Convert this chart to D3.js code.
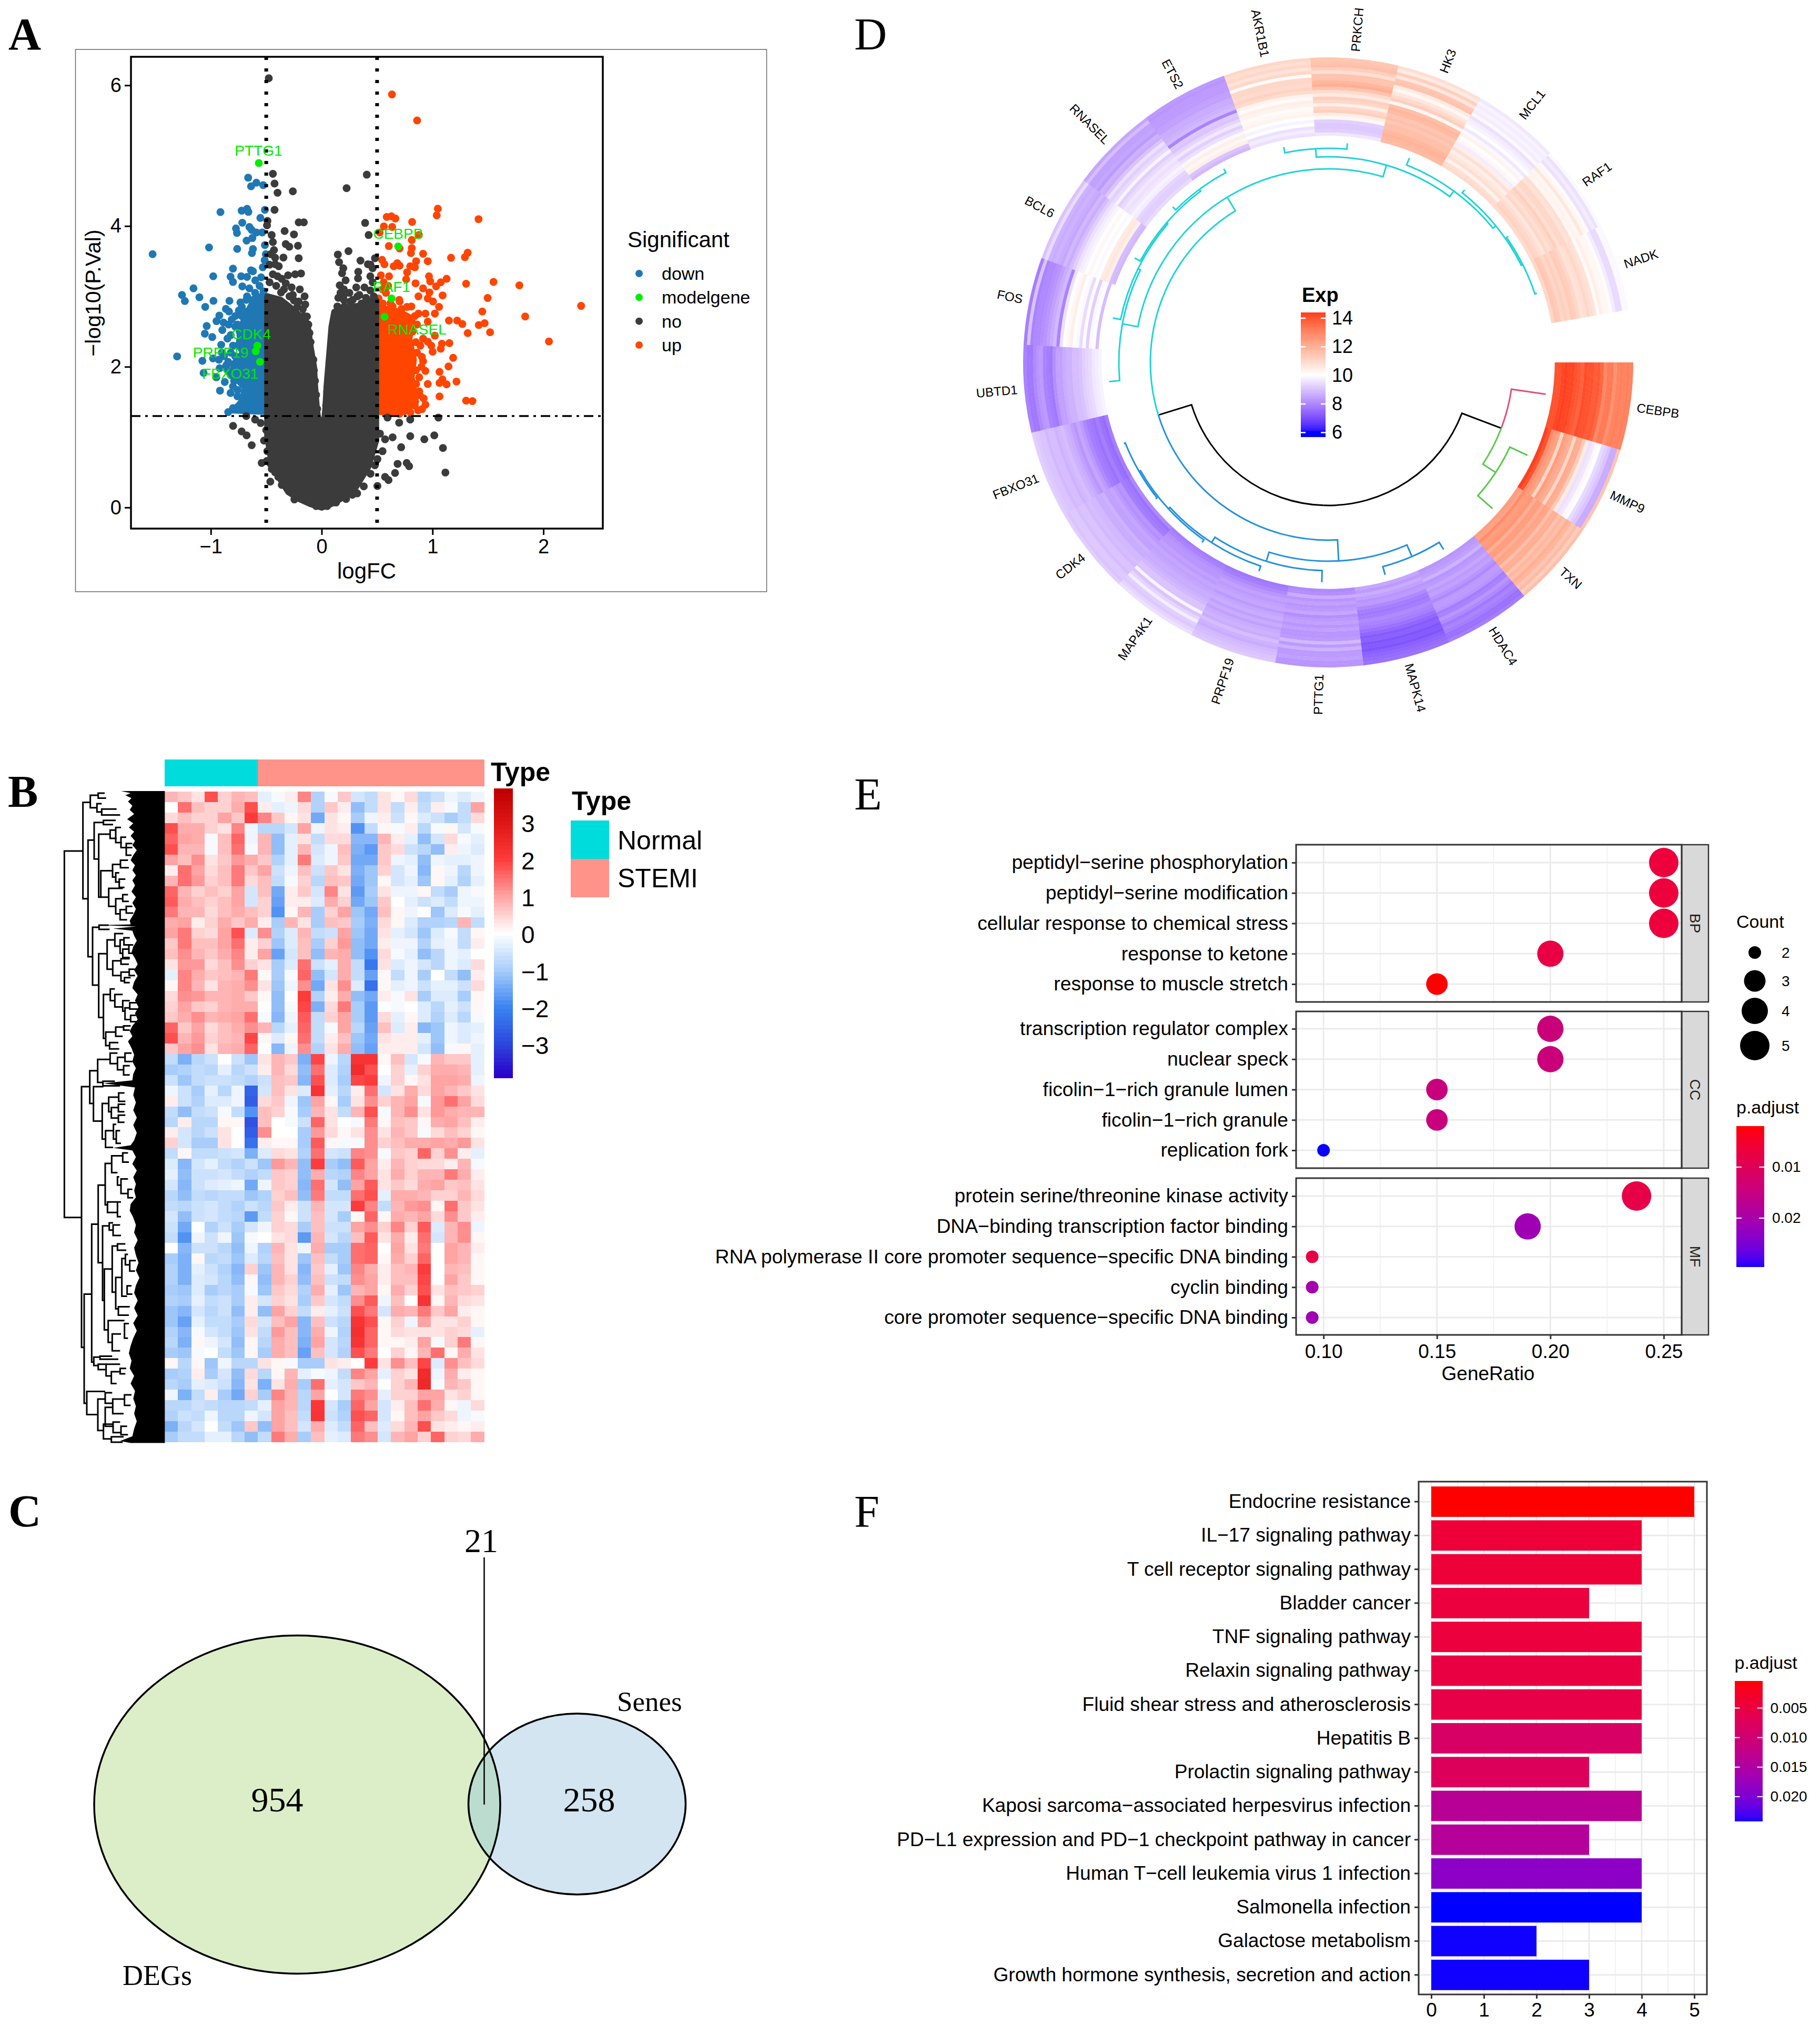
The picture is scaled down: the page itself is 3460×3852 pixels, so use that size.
<!DOCTYPE html>
<html><head><meta charset="utf-8">
<script src="https://cdn.jsdelivr.net/npm/d3@7"></script>
<style>html,body{margin:0;padding:0;background:#fff}svg{display:block}text{font-family:"Liberation Sans",Arial,sans-serif}</style>
</head><body><svg id="c" width="3460" height="3852" xmlns="http://www.w3.org/2000/svg"></svg>
<script>
// ---------- Panel A data: logFC, -log10(P.Val) ----------
const downPoints=[[-1.525,3.6],[-.663,4.687],[-.589,4.616],[-.637,4.564],[-.527,4.581],[-.512,4.23],[-.913,4.198],[-.722,4.218],[-.673,4.244],[-.661,4.201],[-.553,4.115],[-.716,4.047],[-.773,3.966],[-.764,3.901],[-.652,3.986],[-.631,3.944],[-.589,3.909],[-.536,3.909],[-.625,3.829],[-.677,3.792],[-1.016,3.695],[-.762,3.675],[-.62,3.672],[-.629,3.615],[-.512,3.729],[-.504,3.6],[-.514,3.514],[-.531,3.414],[-.8,3.394],[-.637,3.371],[-.62,3.357],[-.978,3.286],[-.822,3.28],[-.726,3.286],[-.673,3.277],[-.546,3.271],[-.8,3.205],[-.599,3.228],[-.716,3.143],[-.652,3.114],[-.525,3.071],[-1.156,3.114],[-1.26,3.02],[-1.234,2.934],[-1.103,2.988],[-.976,2.937],[-.832,2.937],[-.733,2.914],[-.673,3],[-.567,2.971],[-1.05,2.851],[-.864,2.822],[-.836,2.785],[-.923,2.728],[-.949,2.648],[-.811,2.671],[-.885,2.628],[-.747,2.799],[-1.037,2.579],[-.896,2.522],[-.779,2.57],[-1.054,2.47],[-.987,2.422],[-1.304,2.147],[-1.076,2.084],[-.906,2.313],[-.98,2.119],[-.843,2.07],[-.927,2.099],[-.737,2.37],[-1.065,1.913],[-.874,1.784],[-.79,1.798],[-.917,1.661],[-.822,1.627],[-.758,1.669],[-.726,1.484],[-.8,1.412],[-.843,1.355],[-.694,1.569],[-.663,1.627],[-.85,2.4],[-.8,2.3],[-.9,2.2],[-.85,1.95],[-.95,1.85],[-.78,2.15],[-.84,2.6],[-.78,2.72],[-.72,2.85],[-.56,3.15],[-.6,3.05],[-.68,2.95],[-.62,2.95],[-.72,2.72],[-.68,2.78],[-.76,2.6],[-.74,2.5],[-.82,2.45],[-.76,2.3],[-.72,2.25],[-.82,2.2],[-.88,2.15],[-.78,2.02],[-.86,2.02],[-.92,1.98],[-.82,1.88],[-.72,1.85],[-.8,1.72],[-.76,1.58],[-.7,1.45],[-.76,1.4],[-.68,1.36],[-.58,2.95],[-.54,3]];
const upPoints=[[.587,4.129],[.629,4.138],[.665,4.107],[.816,4.058],[1.048,4.247],[1.038,4.152],[1.415,4.098],[.561,3.995],[.636,3.986],[.523,3.909],[.877,3.872],[.813,3.801],[.606,3.715],[.703,3.68],[.813,3.686],[.805,3.615],[.915,3.606],[.957,3.5],[.852,3.5],[.799,3.429],[.841,3.414],[.682,3.472],[.703,3.437],[.65,3.429],[.545,3.52],[.566,3.457],[1.317,3.62],[1.292,3.557],[1.167,3.549],[.771,3.343],[.762,3.243],[.534,3.3],[.608,3.286],[.968,3.286],[.979,3.214],[1.127,3.251],[1.074,3.2],[1.032,3.143],[1.303,3.18],[1.55,3.206],[1.783,3.157],[.847,3.186],[.915,3.114],[.972,3.057],[.873,3],[.957,2.971],[1.091,3.014],[1.497,2.977],[1.004,2.928],[1.059,2.851],[1.449,2.785],[.703,2.928],[.809,2.857],[.513,2.971],[.64,2.857],[.873,2.756],[.936,2.756],[1.021,2.756],[1.148,2.656],[1.222,2.656],[1.269,2.608],[1.836,2.714],[1.417,2.593],[1.47,2.619],[1.519,2.49],[1.317,2.479],[.957,2.642],[1.021,2.442],[.915,2.399],[.957,2.356],[1.152,2.336],[1.085,2.327],[.89,2.299],[.989,2.299],[1.074,2.256],[1.001,2.213],[.904,2.141],[.915,2.079],[1.186,2.127],[1.144,2.004],[.936,1.941],[1.063,1.927],[.957,1.755],[1.089,1.821],[1.063,1.77],[1.127,1.75],[1.216,1.79],[1.063,1.578],[1.303,1.518],[1.36,1.512],[.852,1.755],[.883,1.598],[.936,1.461],[.809,1.512],[.905,1.398],[.746,1.369],[2.34,2.865],[2.05,2.36],[.634,5.87],[.861,5.5],[.55,2.9],[.58,3.05],[.62,2.9],[.7,2.95],[.72,2.82],[.77,2.85],[.84,2.72],[.86,2.6],[.82,2.5],[.85,2.35],[.78,2.3],[.86,2.2],[.9,2],[.85,1.95],[.88,1.85],[.82,1.7],[.88,1.65],[.92,1.55],[.84,1.45],[.87,1.38],[.8,1.35],[.7,1.33],[.55,3.1],[.56,3.2],[.6,3.15]];
const noPoints=[[-.477,6.1],[-.44,4.742],[-.425,4.604],[-.398,4.473],[-.26,4.493],[-.425,4.23],[-.489,4.072],[-.493,4.009],[-.207,4.052],[-.161,4.052],[-.334,3.929],[-.25,3.881],[-.451,3.872],[-.324,3.743],[-.292,3.706],[-.214,3.72],[-.44,3.772],[-.43,3.658],[-.207,3.543],[-.345,3.552],[-.387,3.429],[-.419,3.457],[-.186,3.326],[-.239,3.314],[-.303,3.3],[-.398,3.286],[-.44,3.314],[-.324,3.186],[-.271,3.128],[-.197,3.1],[-.154,3],[-.366,3.057],[-.148,2.885],[-.207,2.928],[-.25,2.942],[-.133,2.714],[.407,4.73],[.225,4.538],[.392,4.044],[.424,3.872],[.242,3.643],[.146,3.595],[.157,3.486],[.195,3.4],[.184,3.329],[.35,3.509],[.417,3.457],[.481,3.543],[.439,3.286],[.328,3.257],[.216,3.228],[.163,3.157],[.312,3.128],[.386,3.128],[.439,3.085],[.195,3],[.322,3],[.259,2.928],[.142,2.857],[.206,2.857],[.322,2.814],[.428,2.928],[.396,2.857],[.174,2.714],[-.799,1.16],[-.677,1.025],[-.631,.885],[-.722,1.081],[-.541,.632],[-.495,.66],[-.45,.547],[-.391,.435],[-.463,.367],[-.246,.114],[1.053,1.278],[.799,1.25],[.699,1.205],[.799,1.014],[.926,.969],[1.016,1.025],[1.094,.845],[1.116,.497],[.717,.856],[.64,.997],[.572,.969],[.503,.688],[.685,.62],[.767,.632],[.789,.587],[.662,.491],[.572,.434],[.603,.39],[.503,.305],[.549,.8],[.277,.181],[.594,1.278],[-.68,1.3],[-.6,1.25],[-.55,1.2],[.526,1.05],[-.47,3.45],[-.46,3.6],[-.47,3.2],[-.42,3.55],[-.41,3.15],[-.36,3.25],[-.34,3.1],[-.29,3],[-.26,3.02],[-.22,2.85],[-.17,2.82],[-.16,2.72],[-.12,2.6],[-.11,2.48],[-.1,2.35],[-.1,2.2],[-.075,2.1],[-.07,1.95],[-.06,1.8],[-.05,1.6],[-.04,1.4],[-.03,1.25],[-.03,1.1],[.12,2.65],[.1,2.5],[.09,2.35],[.08,2.2],[.07,2.05],[.06,1.85],[.05,1.65],[.04,1.45],[.035,1.25],[.03,1.05],[.15,2.98],[.17,3.05],[.25,3.05],[.28,2.95],[.34,3.02],[.36,2.9],[.4,2.98],[.46,3.2],[.46,3.4],[.47,3],[.2,3.1],[.33,3.35],[.2,2.95],[.44,3.45],[-.46,.62],[-.42,.5],[-.36,.32],[-.3,.28],[-.2,.15],[-.12,.08],[-.05,.02],[.05,.02],[.13,.07],[.22,.12],[.32,.2],[.38,.3],[.44,.48],[.48,.6],[-.5,1.1],[-.52,.95],[-.49,.8]];
const modelPoints=[["PTTG1",-.567,4.895],["CEBPB",.69,3.71],["RAF1",.63,2.97],["RNASEL",.567,2.71],["CDK4",-.58,2.3],["PRPF19",-.595,2.22],["FBXO31",-.557,2.07]];
const modelLabelAt=[["PTTG1",-.57,5.0],["CEBPB",.69,3.82],["RAF1",.63,3.06],["RNASEL",.86,2.46],["CDK4",-.635,2.39],["PRPF19",-.91,2.13],["FBXO31",-.825,1.83]];
// dense core of each group, read as outlines of the solid mass
const noCore=[[-.49,3.0],[-.37,2.95],[-.25,2.8],[-.13,2.62],[-.1,2.28],[-.07,2],[-.06,1.71],[-.045,1.42],[0,.82],[.035,1.42],[.045,1.71],[.06,2],[.075,2.28],[.09,2.57],[.115,2.78],[.25,2.84],[.45,2.9],[.49,2.95],[.49,.95],[.42,.58],[.3,.27],[.2,.15],[.1,.06],[0,0],[-.1,.05],[-.2,.12],[-.3,.22],[-.4,.47],[-.46,.72],[-.49,1.02]];
const downCore=[[-.5,3],[-.62,2.92],[-.7,2.68],[-.74,2.45],[-.71,2.2],[-.8,2.03],[-.78,1.85],[-.69,1.7],[-.72,1.5],[-.8,1.38],[-.5,1.36]];
const upCore=[[.5,2.85],[.7,2.78],[.82,2.68],[.79,2.4],[.83,2.1],[.81,1.85],[.85,1.5],[.74,1.36],[.5,1.36]];
const legendA=[["down","#1f78b4"],["modelgene","#00ee00"],["no","#3b3b3b"],["up","#ff4500"]];
// ---------- Panel B data: z-score bands (rows) x samples (columns) ----------
const sampleTypes=["Normal","Normal","Normal","Normal","Normal","Normal","Normal","STEMI","STEMI","STEMI","STEMI","STEMI","STEMI","STEMI","STEMI","STEMI","STEMI","STEMI","STEMI","STEMI","STEMI","STEMI","STEMI","STEMI"];
const heatRows=[
[.8,.6,.3,1.8,.5,.8,.7,-.3,-.1,.2,1.3,-.9,-.1,.6,-.5,-.7,.3,.1,.4,-.8,-.6,-.2,-.4,-.2],
[0,1.5,.7,.5,.5,.9,1.8,.2,-.3,-.2,.4,-.9,.6,.2,-1.2,-.7,.3,-.7,.2,-.7,.2,-.1,-.7,1],
[.4,.7,.5,.5,1,.6,2,1.3,.6,.1,.3,-1.5,.3,.1,-1,-.2,.2,-.6,.1,-.4,-.6,-1,-.7,.4],
[1.8,.9,.9,.5,.3,1.3,-.2,-.8,-.8,-.5,1,-.2,.3,.2,-1.8,-.7,.1,-.1,.2,-.8,-.1,.1,-.5,-.1],
[1.6,1,.9,-.1,.7,1.6,-.2,.8,-1.2,-.3,.3,-.7,.4,.4,-1.3,-1.3,.8,.2,-.3,-1.2,-.5,.4,-.1,-.3],
[1.8,.8,.8,-.1,.7,1.5,-.1,.8,-1.2,-.3,.8,-.5,-.2,.7,-1.4,-1.7,.6,.4,-.6,-.8,-1.2,.2,-.2,-.4],
[1,.7,1.2,.3,.6,1.1,.9,.6,-.9,-.3,1.4,-.4,-.2,.6,-1.5,-1.5,.6,-.2,-.3,-1.2,-.2,-.3,-.3,-.2],
[.2,1.5,1,.4,.7,1.4,.6,1,-.6,-.2,.7,-.6,.6,.3,-1.4,-1.1,.5,-.5,-.2,-1.3,.1,-.2,-.8,-.2],
[.8,1.5,1.1,.5,.7,1.4,.4,.7,-.7,-.1,.5,-.8,.7,.6,-1.5,-1.1,.1,-.5,-.3,-1.1,.1,-.3,-.9,-.3],
[1.6,.8,.5,.7,.5,1,-.5,.7,-1.5,.2,.6,-.5,1.3,.3,-1.7,-1,.3,-.2,-.2,.1,-.7,-1,-.2,-.1],
[1.7,.9,.7,.5,.7,1,-.5,.5,-1.6,.2,.2,-.4,.9,.5,-1.5,-1.1,.6,0,-.3,-.6,-.4,-.7,-.2,-.2],
[1.4,.8,.8,.4,.7,.9,.7,.5,-1.8,.1,.8,-1,.5,1,-1.1,-1.5,.7,.1,-.2,0,-1.1,-.4,-.1,-.3],
[.9,1,.2,.5,.9,.6,.9,.2,-1,.8,.3,-1,.7,.6,-1,-1.4,.4,.1,-.4,-.9,-.9,-.8,.8,-.7],
[1,1.4,.5,.4,1,1.8,-.4,1.2,-.9,-.4,.8,-.7,-.6,1,-1.1,-1.5,.3,-.3,-.5,-1.1,-.4,-.1,-.7,.1],
[.6,1.4,.7,.7,1,1.5,.2,.5,-1.1,-.4,.7,-1,.5,1.1,-1.2,-1.5,.2,-.2,-.2,-.9,-.3,-.2,-.7,.2],
[.7,1.2,.8,.6,.9,1.3,.2,1,-1.6,-.5,.7,-1.2,.8,.9,-1.2,-1.8,.4,-.1,-.3,-1.2,-.8,-.2,-.3,0],
[.3,1.1,1.1,.4,.7,1.2,.5,.3,-1,-.4,1.5,-.6,-.3,.9,-.7,-2.2,.3,-.4,-.2,-.5,-.8,-.2,-.4,.4],
[-.3,1.3,.9,.6,.7,.8,1.4,.1,-1,-.1,1.6,-1.2,-.5,.9,-.7,-1.6,.1,-.7,-.2,-1,0,-.7,-1.2,.2],
[.1,1.3,.8,.3,.8,.9,1.2,.3,-1.1,-.2,1.2,-1.5,.3,1.2,-.4,-2.3,.1,-.3,-.2,-.6,-.3,-.3,-.6,.4],
[.4,1.2,1.1,.8,.8,.9,.6,.1,-1.2,0,2,-.9,.2,.9,-1.2,-1.5,.2,-.1,.3,-1,-.4,-.4,-1,.1],
[.5,1,.6,.5,.8,.9,.9,0,-1.2,-.1,1.9,-1.4,.4,1.4,-1,-1.7,0,-.1,0,-.4,-.8,-.3,-.6,.1],
[.6,.9,1.2,.8,.9,1,1.5,-.1,-1.3,-.2,1.7,-.7,.5,1,-1,-1.7,.4,-.3,.1,-.4,-.9,-.4,-.8,-.1],
[1.6,.6,1,.4,.7,.9,1.2,.8,-.8,-.3,1.6,-.7,-.1,1,-.8,-1.6,.7,-.4,.2,-1.3,-1.1,-.2,-.4,-.3],
[1.8,.8,1.1,.5,.7,.8,1.9,.1,-.4,.1,1.5,-.7,.2,.7,-1.1,-1.5,.3,.2,.2,-.3,-1.1,-.2,-.4,-.2],
[.6,1,1.2,.3,.8,.9,1.6,0,-1.3,-.2,1.2,-.9,.3,.9,-1.2,-1.6,.2,.2,.2,-.5,-1.2,-.1,.1,-.3],
[-.7,-1.4,-.8,-.6,0,-.6,-1.1,.3,.8,.6,-1.4,1.9,-.2,-.8,2.2,2.2,.1,.7,-.5,-.1,.8,.6,.6,-.3],
[-1,-.9,-.7,-.8,-.3,-.8,-.6,.2,.8,.4,-1.2,1.5,-.4,-.9,2.4,1.8,0,.5,-.3,.5,.9,.9,.8,-.3],
[-.6,-1.1,-.7,-.6,-.6,-.7,-.9,-.6,.7,.6,-1.3,1.8,-.4,-1,1.9,2,-.2,.5,.1,.3,1,1,.9,-.2],
[-.2,-.6,-1,-.3,-.8,-.2,-2.5,-.5,.7,.3,-.4,2.2,-.3,-.8,.2,1.5,-.5,.3,.9,.4,1,.8,.6,.3],
[.2,-.6,-.9,-.4,-.4,-.2,-2.6,.4,.6,-.2,-1.1,1,.1,-1,.3,1.2,.5,.8,1,-.1,1.1,1.5,1,.4],
[-.7,-1.2,-.7,-.6,-.1,-.7,-1.8,.7,.5,-.1,-1,.8,.3,-.7,.8,1.8,-.1,.8,1.2,.3,1.1,.9,.8,.8],
[-.8,.2,-.8,-.8,.1,.1,-2.8,.7,0,-.1,-.6,1.6,.3,0,-.1,1.4,.1,.7,.6,.1,.9,1,.7,.2],
[.2,-.5,-.8,-.6,.3,0,-2.6,1.2,0,0,-1,1.1,.4,.1,.3,1.2,.3,.8,.6,-.1,.4,.7,.5,.1],
[.5,-.5,-1,-1,.3,0,-2.3,.2,.1,.1,-1,1.7,.1,-.1,-.1,1.2,.5,.7,.9,.9,1,.9,1.1,.3],
[-.7,.1,-.7,-.7,-.6,-.5,-1.4,-.4,.4,.3,-.9,1.5,-.5,-.6,1.3,1.2,-.1,.6,.5,1.6,.5,1.2,.2,-.3],
[-.4,-1.3,-.5,-.3,-.7,-.9,-.6,-1.1,1.1,.8,-1.2,2,-1,-1.2,1.7,1,.2,.8,.5,.4,.4,.2,.8,-.1],
[-.3,-1.2,-.6,-.6,-.5,-.7,-.9,-.7,.6,.5,-1.2,.9,-.8,-.9,1.3,1,.3,.9,.5,.8,.8,1.4,.9,.2],
[-.5,-1.3,-.6,-.4,-.3,-.2,-1.5,-.2,.6,.5,-1.3,1.5,-.5,-1.2,1,1.7,.3,.6,.4,.9,1,.6,.7,.3],
[-.8,-1.2,-.7,-.8,-.7,-.7,-1.1,-.9,.5,.7,-1.2,1.4,-.7,-.7,1.5,1.8,-.3,.9,.9,.8,.5,.5,.8,.4],
[-.7,-.8,-.6,-.5,-.7,-.9,-.6,-.8,.6,.2,-.6,.8,-.5,-.5,2,1.3,-.7,.8,1.1,1.2,.1,1.5,.6,.3],
[-.5,-1.2,-.6,-.5,-.7,-.8,-1.7,-.7,.5,.1,-.6,.7,-.5,-1,.1,1.6,.1,.9,.8,1,.4,1.2,.6,.2],
[-.6,-1.5,0,-.9,-.6,-1,-.5,-.2,.5,.4,-1,.7,-.6,-.6,1,1.2,.5,1.3,.5,1.7,-.4,.8,1.2,-.2],
[-.7,-1.8,-.2,-.6,-.2,-1.1,-.1,0,.3,.4,-1.7,.8,-.5,-.8,.7,1.7,.3,.9,.2,1.5,-.5,.8,1.2,.1],
[0,-1.3,-.6,-.6,-.8,-1.2,-.2,-.9,.8,.3,-.2,.9,-1,-1,1.5,1.6,0,1,.3,1.4,0,1,.8,.2],
[-1,-1.4,.1,-.8,-.7,-1.1,-.4,-.8,.7,.3,-1.1,.7,-.7,-1,1.5,1.6,.1,.9,.5,1.6,0,1,.8,.1],
[-.9,-1.4,-.3,-.6,-.9,-1.3,.5,-1.1,.8,.3,-1.3,.6,-.3,-1.1,1.3,.9,.2,.7,.8,2,0,.8,.7,.1],
[-.9,-1.4,-.4,-.5,-.8,-1.2,.1,-1.2,.8,.5,-1.2,.7,-.6,-.7,1.2,1,.2,.7,.7,1.9,0,1,.6,.1],
[-1,-1.1,-.4,-1,-.8,-1,-.1,-1.1,.6,.4,-.9,.9,-.3,-1.1,.8,1,.1,.9,.5,1.8,.3,.7,.6,.5],
[-.9,-1,-.3,-.7,-.6,-1,.2,-.5,.5,.3,-1,.6,-.5,-.7,1.2,1.7,-.2,.7,0,2.2,.1,.8,.4,.3],
[-1.1,-1.3,-.5,-.8,-.6,-1.2,.2,-1.2,1,.5,-.7,.2,-.3,-.6,1.8,1.4,-.5,.9,.8,1.4,.6,1,.2,.1],
[-1.1,-1.6,-.3,-.7,-.7,-1,.4,-.5,.7,1,-1.3,.7,-.6,-.8,2.2,1.8,.1,.5,-.2,1,.3,.3,.5,.1],
[-.9,-1.3,-.1,-.5,-.7,-1.1,.3,-.7,1.1,.7,-1.3,.9,-.2,-.9,2.3,1.6,.1,.4,.3,.3,.3,.5,.4,-.3],
[-.8,-1.4,.1,-.2,-.5,-1.2,.1,-.8,.9,.7,-1.4,1,-.5,-.8,2.2,1.6,.1,.1,.2,1,-.1,.5,1.4,.1],
[-1,-1.1,-.1,0,-.7,-1.1,.1,-1,.9,.7,-1.6,.7,-.5,-.9,1.8,1.4,0,.5,.1,.8,1.5,.1,.9,.3],
[.1,-.8,.1,-1.1,-.2,-.8,-.8,.3,.1,-.1,-1,-1,.3,.2,0,2,.3,1.2,.7,1.9,-.4,1.2,.7,.4],
[-1,-.9,.2,-1,-.5,-1.2,.4,-.8,.1,.8,-.3,-.1,-.2,-.7,1.3,1,-.3,.5,.3,2.4,-.2,.9,.2,.1],
[-.8,-1,-.3,-.4,-.6,-1.3,.3,-1.4,.3,.9,-1,1.5,-.3,-.5,.6,.8,0,.5,.8,2.5,-.1,.8,.6,.1],
[-.2,-1.4,-.7,.2,-1,-1.5,.5,-1,1.3,.8,-.8,1,0,-.5,1.4,1.2,-.3,.5,.5,1,1,.3,.5,.1],
[-.8,-.8,-.6,-.7,-.8,-.8,-.7,-.3,1,.8,-.8,2.1,-.5,-1,1.6,1,-.5,.2,.7,1.5,.9,.1,-.2,.4],
[-.9,-.6,-.7,-.2,-.8,-.8,-.2,-.5,1,.7,-.7,2.2,-.6,-.9,1.8,1.6,-.5,.1,.7,1,.6,.4,-.2,-.1],
[-1.4,-.8,-.5,0,-.7,-1.1,.6,-1.2,1,.7,-.5,.9,-.4,-.7,1.6,.7,-.4,.4,.8,1.8,.3,.2,.1,.2],
[-1,-.7,-.7,-.3,-.3,-.8,-1.2,-.7,1.4,.9,-1,.7,-.3,-.4,1.4,1.2,-.5,.8,1,.5,1.6,.5,.4,.9]];
const heatTicks=[3,2,1,0,-1,-2,-3];
const heatStops=[-3.85,-3,-2,-1,0,1,2,3,3.85];
const heatColors=["#2a00cc","#2c45dc","#3b84f2","#a8cdfa","#ffffff","#ffa3a3","#ff3a3a","#de1515","#c00000"];
// row dendrogram: [merge position, row a, row b, child a position, child b position]
const dendroMerges=[[22,148,1022,128,120],[128,32,262,170,157],[170,15,45,215,208],[215,10,22,252,260],[208,35,55,235,232],[235,48,62,320,340],[157,122,400,192,183],[192,80,167,245,218],[245,75,85,315,300],[218,108,258,283,230],[283,98,118,315,320],[315,92,128,345,350],[345,115,140,375,410],[375,130,158,410,405],[230,195,258,297,275],[297,180,210,342,315],[342,170,188,385,390],[315,200,222,335,340],[335,215,235,370,365],[275,237,280,355,315],[315,262,298,355,340],[355,252,268,385,390],[340,288,312,375,380],[375,280,296,410,415],[183,330,468,220,218],[220,325,335,275,280],[218,393,545,266,245],[266,360,430,310,298],[310,345,375,358,340],[340,360,392,362,355],[362,355,372,395,400],[355,382,402,390,395],[390,372,392,415,420],[298,410,445,345,345],[345,405,418,395,390],[345,437,458,392,365],[392,430,445,425,425],[365,450,462,400,395],[245,490,595,284,258],[284,477,505,310,310],[310,490,520,355,355],[355,505,530,395,368],[368,522,550,395,400],[395,510,525,440,440],[400,540,555,430,435],[258,580,612,315,280],[315,568,590,360,355],[360,565,575,400,395],[280,605,620,330,335],[120,710,1332,167,135],[167,672,750,212,188],[212,645,700,283,242],[283,630,655,325,325],[325,640,670,368,360],[368,630,650,405,410],[360,660,682,395,395],[242,697,708,310,340],[188,710,792,245,238],[238,750,835,275,257],[275,735,770,332,290],[332,725,745,365,370],[290,760,785,330,330],[330,752,770,370,365],[330,778,795,370,365],[257,815,855,302,300],[302,800,835,318,320],[318,815,845,340,345],[178,1038,1367,215,190],[215,945,1130,255,240],[255,893,992,292,268],[292,875,915,355,325],[355,868,890,385,390],[325,925,945,335,345],[345,930,965,385,385],[385,955,975,410,415],[268,985,1010,325,325],[325,985,1020,345,345],[240,1042,1220,278,250],[278,1035,1052,300,300],[300,1040,1065,340,345],[250,1145,1290,295,272],[295,1090,1200,325,315],[325,1085,1100,370,375],[315,1165,1240,350,330],[350,1120,1210,370,380],[370,1110,1135,385,395],[395,1125,1150,430,425],[380,1185,1205,405,410],[330,1235,1255,395,390],[272,1268,1320,365,295],[365,1275,1310,390,385],[295,1300,1340,345,340],[190,1355,1375,225,215],[225,1353,1360,295,330],[215,1372,1385,260,255],[260,1372,1400,340,290],[340,1382,1395,375,370],[290,1390,1418,345,320],[135,1205,1465,178,150],[150,1437,1492,255,213],[255,1440,1465,295,298],[298,1455,1490,365,360],[365,1445,1470,405,400],[213,1455,1530,255,245],[255,1475,1520,300,300],[245,1515,1550,300,290],[300,1510,1535,340,345],[290,1545,1558,360,355],[345,1520,1540,380,385]];
const dendroMass=[[5,345],[10,400],[15,370],[22,405],[30,385],[40,410],[50,395],[60,420],[72,380],[82,415],[92,390],[102,420],[112,400],[124,425],[134,410],[146,435],[158,415],[170,400],[182,425],[194,410],[206,430],[218,410],[230,425],[245,405],[258,430],[272,410],[286,430],[300,415],[314,395],[323,400],[325,225],[328,430],[333,300],[338,410],[350,420],[362,435],[376,415],[390,405],[404,425],[418,440],[432,420],[446,440],[460,420],[475,410],[490,440],[505,425],[520,445],[535,425],[550,440],[565,410],[578,395],[590,410],[602,385],[618,405],[634,420],[650,410],[666,430],[680,415],[695,410],[702,245],[712,425],[730,415],[748,430],[766,415],[784,435],[802,415],[820,435],[838,420],[850,400],[856,300],[862,410],[878,430],[894,410],[910,435],[926,415],[942,430],[958,420],[974,430],[990,400],[1006,395],[1022,415],[1040,430],[1058,420],[1076,440],[1094,420],[1112,430],[1130,445],[1148,430],[1166,450],[1184,430],[1202,420],[1220,440],[1238,420],[1256,440],[1274,415],[1292,435],[1310,415],[1328,400],[1346,390],[1364,405],[1382,395],[1400,420],[1418,400],[1436,425],[1454,415],[1472,430],[1490,420],[1508,435],[1526,420],[1544,410],[1555,340],[1560,400]];
// ---------- Panel C data ----------
const vennSizes={degs:975,senes:279};
const vennCounts={only1:954,both:21,only2:258};
// ---------- Panel D data: expression per gene, one value per ring, outer to inner ----------
const ringGenes=["CEBPB","MMP9","TXN","HDAC4","MAPK14","PTTG1","PRPF19","MAP4K1","CDK4","FBXO31","UBTD1","FOS","BCL6","RNASEL","ETS2","AKR1B1","PRKCH","HK3","MCL1","RAF1","NADK"];
const ringValues=[
[13,13.1,13,13.1,13,12.7,13.2,13.2,12.9,13.6,13.9,13.8,14,14,14.1,13.7,13.9,14,14.2,14.2,14.3,14.2,14,14],
[11.5,8.6,8.6,9,9.2,9.4,10,10.2,9.6,9.5,10.5,11.3,12,12.1,11,12,12.2,12.4,11,12.3,12.5,12.8,14,14.3],
[11.6,11.2,11.7,11.4,11.8,12,11.6,11.8,11.5,12,12,11.6,12.2,12.3,12,12.4,12.4,12,12.6,12.5,12.4,12.8,12.3,12.4],
[7.8,7.6,7.6,7.8,7.9,7.7,8,8.2,7.9,7.8,8.2,8.3,8.3,8,8.2,8.4,8.3,8.5,8.3,8.2,8.7,8.4,8.3,8.2],
[7.6,7.5,7.4,7.3,7.1,7.2,7.1,7.3,7.2,7.4,7.6,7.8,7.9,8,7.8,7.7,7.8,8,8.3,8.2,8.4,8.6,8.3,8.5],
[8.2,8.2,8.4,8.3,8.3,8.7,8.3,8.8,8.3,8.2,8.2,8.4,8.2,8.4,8.3,8.1,8.5,8.3,8.2,8.4,8.2,8.6,8.1,8],
[9.1,9,8.9,8.8,8.6,8.7,8.9,8.6,8.7,8.6,8.4,8.6,8.4,8.6,8.5,8.3,8.5,8.4,8.3,8.4,8.2,8,7.8,7.7],
[9.5,9.3,9.1,9.2,9.7,9.3,9,9.8,9,9,8.8,8.7,8.6,8.6,8.5,8.4,8.5,8.3,8.4,8.2,8.2,8.1,7.9,7.8],
[9.2,9,9.1,9.1,8.9,9,9,8.8,8.9,8.8,8.8,8.6,8.6,8.7,8.4,8.4,8.5,8.3,8.1,8.2,7.8,7.7,7.6,8],
[9.2,9.1,9,9,8.8,8.9,8.9,8.7,8.8,8.9,8.7,8.6,8.4,8.2,8.5,8.3,8,7.8,7.7,7.6,7.8,7.6,7.5,7.8],
[7.9,7.7,7.7,8,8.2,8.3,7.9,7.8,7.7,8.1,8.4,8.4,8.6,8.7,8.7,8.9,8.9,9,9.2,9.3,9.4,9.6,9.7,9.8],
[7.8,9,7.9,8,8,8.1,8.2,8.4,8.6,8.8,7.9,9.5,10,10.2,10.4,10,9.9,9.4,10,9.2,9.9,10,8.9,10],
[9,9.4,8.7,8.6,8.7,8.6,8.5,8.8,8.6,8.9,9.2,9.5,9.7,9.8,10,10.2,10,9.9,10,10.5,10.6,10.4,8.9,8.8],
[8.5,8.9,8.4,8.4,8.5,8.3,8.7,8.6,9,9.5,9.2,9.4,9.8,9.2,9.4,9.6,9.5,9.6,9.8,9.7,9.3,9.2,9.2,9.4],
[8.3,8.2,8.3,8.3,8.3,8.4,8.4,8.6,8.6,8.7,8.8,7.9,9.1,9,9.3,9.6,9.2,9.5,9.9,10.4,10.2,10.4,9,8.8],
[11,10.8,11,10.7,11,10.1,11,11,10.9,11.1,10.9,10.3,10.1,10.4,10.3,10.1,10.2,10.3,10,9.8,10,9.5,9.7,9.5],
[11.4,11.5,11.6,11.2,10.8,11.5,11.5,11.8,12,11.5,10.9,10.5,11.2,11,10.4,11,11.2,10.4,10.2,9.2,9.1,9.1,9.2,9.6],
[10.8,10.5,11.2,10.6,11.4,11.5,10.5,10.2,10.6,10.9,11.2,10.2,11.6,11.8,11.7,11.4,11.6,11.4,11.6,11.6,11.8,11.9,11.8,11.7],
[9.6,9.8,9.7,9.8,9.7,9.9,9.5,9.7,9.8,10,9.6,9.9,10.3,10,10.2,9.7,10.4,10.8,10.4,10.6,10.8,10.3,10.8,10.9],
[9.9,9.5,9.7,9.5,10.1,10.2,10.6,10.2,10.3,10.2,10.8,10.7,11,11,10.8,11.2,11,10.8,11,10.6,10.8,11,11.1,10.9],
[9.9,9.9,9.4,9.4,9.7,10.1,10.2,10.2,10.4,10.1,10.7,10.8,11,10.8,10.7,11,11.2,11.3,11,11.2,11,11.3,11.4,11]];
const ringTree=[146,[66,0,[37,1,2]],[80,[40,[16,3,4],[22,5,[10,6,[6,7,[3,8,9]]]]],[50,[20,10,[15,11,[12,12,[8,13,14]]]],[27,[11,15,16],[14,17,[7,18,[4,19,20]]]]]]];
const treeClusters=[{color:"#e0507a",leaves:[0]},{color:"#5cc84c",leaves:[1,2]},{color:"#2390dd",leaves:[3,4,5,6,7,8,9]},{color:"#1fd3d8",leaves:[10,11,12,13,14,15,16,17,18,19,20]}];
const expTicks=[14,12,10,8,6];
// ---------- Panel E data ----------
const bpTerms=["peptidyl−serine phosphorylation","peptidyl−serine modification","cellular response to chemical stress","response to ketone","response to muscle stretch"];
const bpRatio=[.25,.25,.25,.2,.15],bpCount=[5,5,5,4,3],bpP=[.0065,.0065,.0065,.0075,.002];
const ccTerms=["transcription regulator complex","nuclear speck","ficolin−1−rich granule lumen","ficolin−1−rich granule","replication fork"];
const ccRatio=[.2,.2,.15,.15,.1],ccCount=[4,4,3,3,2],ccP=[.014,.014,.0145,.0145,.0295];
const mfTerms=["protein serine/threonine kinase activity","DNA−binding transcription factor binding","RNA polymerase II core promoter sequence−specific DNA binding","cyclin binding","core promoter sequence−specific DNA binding"];
const mfRatio=[.238,.19,.095,.095,.095],mfCount=[5,4,2,2,2],mfP=[.008,.021,.0075,.02,.021];
const countLevels=[2,3,4,5];
// ---------- Panel F data ----------
const kegg=["Endocrine resistance","IL−17 signaling pathway","T cell receptor signaling pathway","Bladder cancer","TNF signaling pathway","Relaxin signaling pathway","Fluid shear stress and atherosclerosis","Hepatitis B","Prolactin signaling pathway","Kaposi sarcoma−associated herpesvirus infection","PD−L1 expression and PD−1 checkpoint pathway in cancer","Human T−cell leukemia virus 1 infection","Salmonella infection","Galactose metabolism","Growth hormone synthesis, secretion and action"];
const keggCount=[5,4,4,3,4,4,4,4,3,4,3,4,4,2,3];
const keggP=[.0004,.004,.004,.0045,.0045,.005,.0055,.0085,.0075,.0135,.014,.0185,.0241,.024,.024];

const svg=d3.select("#c");
svg.append("rect").attr("width",3460).attr("height",3852).attr("fill","#fff");
const SERIF='"Liberation Serif","Times New Roman",serif';
function letter(s,x,y,bold){svg.append("text").text(s).attr("x",x).attr("y",y).attr("font-size",86).attr("font-weight",bold?700:400).style("font-family",SERIF);}
letter("A",16,94,true);letter("B",15,1534,true);letter("C",16,2902,true);letter("D",1624,94,false);letter("E",1624,1539,false);letter("F",1624,2903,false);
function styleAxis(g,fs,color){g.select(".domain").remove();g.selectAll("line").attr("stroke",color).attr("stroke-width",3);g.selectAll("text").attr("font-size",fs).attr("fill","#000");}
function T(g,s,x,y,fs,o={}){const t=g.append("text").text(s).attr("x",x).attr("y",y).attr("font-size",fs);for(const k in o)t.attr(k,o[k]);return t;}

// ---------- A ----------
(function(){
 const g=svg.append("g");
 g.append("rect").attr("x",143.5).attr("y",94).attr("width",1314).attr("height",1031).attr("fill","none").attr("stroke","#666").attr("stroke-width",1.5);
 const x=d3.scaleLinear().domain([-1.72,2.536]).range([249,1146]);
 const y=d3.scaleLinear().domain([-.3,6.405]).range([1005,108]);
 const line=d3.line().x(d=>x(d[0])).y(d=>y(d[1])).curve(d3.curveLinearClosed);
 const core=(pts,c)=>g.append("path").attr("d",line(pts)).attr("fill",c).attr("stroke",c).attr("stroke-width",12).attr("stroke-linejoin","round");
 core(downCore,"#1f78b4");core(upCore,"#ff4500");
 const dots=(pts,c)=>g.append("g").selectAll("circle").data(pts).join("circle").attr("cx",d=>x(d[0])).attr("cy",d=>y(d[1])).attr("r",7.5).attr("fill",c);
 dots(downPoints,"#1f78b4");dots(upPoints,"#ff4500");
 core(noCore,"#3b3b3b");dots(noPoints,"#3b3b3b");
 g.append("g").selectAll("circle").data(modelPoints).join("circle").attr("cx",d=>x(d[1])).attr("cy",d=>y(d[2])).attr("r",7.5).attr("fill","#00ee00");
 [-.5,.5].forEach(v=>g.append("line").attr("x1",x(v)).attr("x2",x(v)).attr("y1",108).attr("y2",1005).attr("stroke","#000").attr("stroke-width",7).attr("stroke-dasharray","6 16"));
 g.append("line").attr("x1",249).attr("x2",1146).attr("y1",y(1.3)).attr("y2",y(1.3)).attr("stroke","#000").attr("stroke-width",3.5).attr("stroke-dasharray","18 9 5 9");
 g.append("g").selectAll("text").data(modelLabelAt).join("text").text(d=>d[0]).attr("x",d=>x(d[1])).attr("y",d=>y(d[2])).attr("text-anchor","middle").attr("font-size",28).attr("fill","#00e800");
 g.append("rect").attr("x",249).attr("y",108).attr("width",897).attr("height",897).attr("fill","none").attr("stroke","#000").attr("stroke-width",3.5);
 const ax=g.append("g").attr("transform","translate(0,1005)").call(d3.axisBottom(x).tickValues([-1,0,1,2]).tickSize(12).tickPadding(8).tickFormat(d3.format("d")));styleAxis(ax,38,"#000");
 const ay=g.append("g").attr("transform","translate(249,0)").call(d3.axisLeft(y).tickValues([0,2,4,6]).tickSize(12).tickPadding(6).tickFormat(d3.format("d")));styleAxis(ay,38,"#000");
 T(g,"logFC",697,1100,42,{"text-anchor":"middle"});
 T(g,"−log10(P.Val)",0,0,41,{"text-anchor":"middle",transform:"translate(191,557) rotate(-90)"});
 T(g,"Significant",1193,470,42);
 const ly=d3.scalePoint().domain(legendA.map(d=>d[0])).range([520,656]);
 legendA.forEach(d=>{g.append("circle").attr("cx",1215).attr("cy",ly(d[0])).attr("r",7).attr("fill",d[1]);T(g,d[0],1258,ly(d[0])+12,34);});
})();

// ---------- B ----------
(function(){
 const g=svg.append("g");
 const color=d3.scaleLinear().domain(heatStops).range(heatColors).interpolate(d3.interpolateRgb);
 const x=d3.scaleBand().domain(d3.range(24)).range([313,920.5]);
 const y=d3.scaleBand().domain(d3.range(heatRows.length)).range([1505,2742]);
 const rows=g.append("g").attr("shape-rendering","crispEdges").selectAll("g").data(heatRows).join("g").attr("transform",(d,i)=>`translate(0,${y(i)})`);
 rows.selectAll("rect").data(d=>d).join("rect").attr("x",(d,i)=>x(i)).attr("width",x.bandwidth()+.5).attr("height",y.bandwidth()+.5).attr("fill",d=>color(d));
 const typeColor={Normal:"#00dcdc",STEMI:"#ff9289"};
 g.append("g").attr("shape-rendering","crispEdges").selectAll("rect").data(sampleTypes).join("rect").attr("x",(d,i)=>x(i)).attr("y",1444).attr("width",x.bandwidth()+.5).attr("height",51).attr("fill",d=>typeColor[d]);
 const dx=d3.scaleLinear().domain([0,600]).range([115,315]),dy=d3.scaleLinear().domain([0,1568]).range([1500,2750]);
 g.append("path").attr("fill","#000").attr("d",d3.area().y(d=>dy(d[0])).x0(d=>dx(d[1])).x1(dx(595)).curve(d3.curveLinear)(dendroMass));
 g.append("g").selectAll("path").data(dendroMerges).join("path").attr("fill","none").attr("stroke","#000").attr("stroke-width",3)
  .attr("d",m=>`M${dx(m[3])},${dy(m[1])}H${dx(m[0])}V${dy(m[2])}H${dx(m[4])}`);
 const cb=d3.scaleLinear().domain([-3.85,3.88]).range([2049,1505]);
 const steps=d3.range(-3.85,3.88,.11);
 g.append("g").attr("shape-rendering","crispEdges").selectAll("rect").data(steps).join("rect").attr("x",939).attr("width",36).attr("y",d=>cb(d+.11)).attr("height",d=>cb(d)-cb(d+.11)+.5).attr("fill",d=>color(d));
 const ax=g.append("g").attr("transform","translate(975,0)").call(d3.axisRight(cb).tickValues(heatTicks).tickSize(0).tickPadding(16).tickFormat(d3.format("d")));ax.select(".domain").remove();ax.selectAll("text").attr("font-size",46);
 T(g,"Type",933,1485,50,{"font-weight":700});
 T(g,"Type",1087,1540,50,{"font-weight":700});
 g.append("rect").attr("x",1085).attr("y",1560).attr("width",73).attr("height",73).attr("fill",typeColor.Normal);
 g.append("rect").attr("x",1085).attr("y",1633).attr("width",73).attr("height",73).attr("fill",typeColor.STEMI);
 T(g,"Normal",1174,1615,50);T(g,"STEMI",1174,1687,50);
})();

// ---------- C ----------
(function(){
 const g=svg.append("g");
 const r=d3.scaleSqrt().domain([0,975]).range([0,386]);const asp=.833;
 const A={cx:565,cy:3431,rx:r(vennSizes.degs)},B={cx:1097,cy:3430,rx:r(vennSizes.senes)};
 const defs=svg.append("defs");
 const el=(s,o)=>s.append("ellipse").attr("cx",o.cx).attr("cy",o.cy).attr("rx",o.rx).attr("ry",o.rx*asp);
 el(defs.append("clipPath").attr("id","bigClip"),A);
 el(g,A).attr("fill","#dbeec8");el(g,B).attr("fill","#d2e5f0");
 el(g,B).attr("fill","#bcdcd0").attr("clip-path","url(#bigClip)");
 el(g,A).attr("fill","none").attr("stroke","#000").attr("stroke-width",3.5);
 el(g,B).attr("fill","none").attr("stroke","#000").attr("stroke-width",3.5);
 g.append("line").attr("x1",920.5).attr("x2",920.5).attr("y1",2961).attr("y2",3431).attr("stroke","#000").attr("stroke-width",2.5);
 const t=(s,x,y,fs,a)=>T(g,s,x,y,fs,{"text-anchor":a||"middle"}).style("font-family",SERIF);
 t(String(vennCounts.both),915,2951,64);t(String(vennCounts.only1),527,3444,66);t(String(vennCounts.only2),1120,3444,66);
 t("Senes",1173,3253,53,"start");t("DEGs",233,3774,54,"start");
})();

// ---------- D ----------
(function(){
 const g=svg.append("g").attr("transform","translate(2525,689)");
 const rad=d=>d*Math.PI/180;
 const ang=d3.scaleLinear().domain([0,ringGenes.length]).range([0,350]);
 const ringR=d3.scaleLinear().domain([0,24]).range([580,431]);
 const color=d3.scaleLinear().domain([6,10,14.3]).range(["#0000ff","#ffffff","#ff4020"]).interpolate(d3.interpolateLab);
 const arc=d3.arc();
 ringValues.forEach((vals,gi)=>{
  g.append("g").selectAll("path").data(vals).join("path").attr("d",(v,ri)=>arc({innerRadius:ringR(ri+1)-.3,outerRadius:ringR(ri),startAngle:rad(ang(gi)+90),endAngle:rad(ang(gi+1)+90)+.001})).attr("fill",v=>color(v));
 });
 ringGenes.forEach((n,i)=>{
  const th=ang(i+.5),right=Math.cos(rad(th))>=0;
  g.append("text").text(n).attr("font-size",24).attr("dy",".35em").attr("text-anchor",right?"start":"end")
   .attr("transform",`rotate(${th}) translate(593,0)`+(right?"":" rotate(180)"));
 });
 const treeR=d3.scaleLinear().domain([0,146]).range([418,272]);
 const leaves=n=>Array.isArray(n)?leaves(n[1]).concat(leaves(n[2])):[n];
 const nodeAng=n=>Array.isArray(n)?(nodeAng(n[1])+nodeAng(n[2]))/2:ang(n+.5);
 const h=n=>Array.isArray(n)?n[0]:0;
 const colorOf=n=>{const L=leaves(n);const c=treeClusters.find(k=>L.every(l=>k.leaves.includes(l)));return c?c.color:"#000";};
 const pt=(a,r)=>[r*Math.cos(rad(a)),r*Math.sin(rad(a))];
 const segs=[];
 (function walk(n){if(!Array.isArray(n))return;const a=nodeAng(n),r=treeR(n[0]);[n[1],n[2]].forEach(ch=>{const ca=nodeAng(ch),p0=pt(a,r),p1=pt(ca,r),p2=pt(ca,treeR(h(ch)));segs.push({d:`M${p0}A${r},${r} 0 0 ${ca>a?1:0} ${p1}L${p2}`,c:colorOf(ch)});walk(ch);});})(ringTree);
 g.append("g").selectAll("path").data(segs).join("path").attr("d",d=>d.d).attr("fill","none").attr("stroke",d=>d.c).attr("stroke-width",3);
 const l=svg.append("g");
 const cb=d3.scaleLinear().domain([5.7,14.33]).range([830.6,596]);
 l.append("g").attr("shape-rendering","crispEdges").selectAll("rect").data(d3.range(5.7,14.33,.1)).join("rect").attr("x",2473).attr("width",47).attr("y",d=>cb(d+.1)).attr("height",d=>cb(d)-cb(d+.1)+.5).attr("fill",d=>color(d));
 expTicks.forEach(v=>{[[2473,2482],[2511,2520]].forEach(p=>l.append("line").attr("x1",p[0]).attr("x2",p[1]).attr("y1",cb(v)).attr("y2",cb(v)).attr("stroke","#fff").attr("stroke-width",2.5));});
 const ax=l.append("g").attr("transform","translate(2520,0)").call(d3.axisRight(cb).tickValues(expTicks).tickSize(0).tickPadding(12));ax.select(".domain").remove();ax.selectAll("text").attr("font-size",36);
 T(l,"Exp",2475,574,38,{"font-weight":700});
})();

const pCol=(dom)=>d3.scaleLinear().domain(dom).range(["#ff0000","#0000ff"]).interpolate(d3.interpolateLab);
function pLegend(g,dom,x0,y0,y1,ticks,fmt,titleY){
 const c=pCol(dom),s=d3.scaleLinear().domain(dom).range([y0,y1]);
 const st=(dom[1]-dom[0])/120;
 g.append("g").attr("shape-rendering","crispEdges").selectAll("rect").data(d3.range(dom[0],dom[1],st)).join("rect").attr("x",x0).attr("width",53).attr("y",d=>s(d)).attr("height",s(st)-s(0)+.6).attr("fill",d=>c(d));
 ticks.forEach(v=>[[x0,x0+10],[x0+43,x0+53]].forEach(p=>g.append("line").attr("x1",p[0]).attr("x2",p[1]).attr("y1",s(v)).attr("y2",s(v)).attr("stroke","#fff").attr("stroke-width",2)));
 const ax=g.append("g").attr("transform",`translate(${x0+53},0)`).call(d3.axisRight(s).tickValues(ticks).tickSize(0).tickPadding(15).tickFormat(fmt));ax.select(".domain").remove();ax.selectAll("text").attr("font-size",28);
 T(g,"p.adjust",x0,titleY,34);
}

// ---------- E ----------
(function(){
 const g=svg.append("g");
 const x=d3.scaleLinear().domain([.0879,.2579]).range([2464,3197]);
 const pDom=[.00196,.02955],col=pCol(pDom);
 const size=d3.scaleLinear().domain(countLevels).range([12,20.5,25,28]);
 const facets=[{s:"BP",t:bpTerms,r:bpRatio,n:bpCount,p:bpP,y0:1606,y1:1905,a:1640,b:1871},{s:"CC",t:ccTerms,r:ccRatio,n:ccCount,p:ccP,y0:1923,y1:2221,a:1956,b:2187},{s:"MF",t:mfTerms,r:mfRatio,n:mfCount,p:mfP,y0:2240,y1:2538,a:2274,b:2505}];
 facets.forEach(f=>{
  const y=d3.scalePoint().domain(f.t).range([f.a,f.b]);
  g.append("rect").attr("x",2464).attr("y",f.y0).attr("width",733).attr("height",f.y1-f.y0).attr("fill","#fff");
  [.125,.175,.225].forEach(v=>g.append("line").attr("x1",x(v)).attr("x2",x(v)).attr("y1",f.y0).attr("y2",f.y1).attr("stroke","#eee").attr("stroke-width",1.5));
  [.1,.15,.2,.25].forEach(v=>g.append("line").attr("x1",x(v)).attr("x2",x(v)).attr("y1",f.y0).attr("y2",f.y1).attr("stroke","#ebebeb").attr("stroke-width",3));
  f.t.forEach(t=>g.append("line").attr("x1",2464).attr("x2",3197).attr("y1",y(t)).attr("y2",y(t)).attr("stroke","#ebebeb").attr("stroke-width",3));
  g.append("g").selectAll("circle").data(f.t).join("circle").attr("cx",(d,i)=>x(f.r[i])).attr("cy",d=>y(d)).attr("r",(d,i)=>size(f.n[i])).attr("fill",(d,i)=>col(f.p[i]));
  g.append("rect").attr("x",3197).attr("y",f.y0).attr("width",51).attr("height",f.y1-f.y0).attr("fill","#d9d9d9").attr("stroke","#333").attr("stroke-width",2.5);
  g.append("rect").attr("x",2464).attr("y",f.y0).attr("width",733).attr("height",f.y1-f.y0).attr("fill","none").attr("stroke","#333").attr("stroke-width",3);
  T(g,f.s,0,0,28,{"text-anchor":"middle",transform:`translate(3213,${(f.y0+f.y1)/2}) rotate(90)`,fill:"#222"});
  const ay=g.append("g").attr("transform","translate(2464,0)").call(d3.axisLeft(y).tickSize(8).tickPadding(7));styleAxis(ay,37.3,"#333");
 });
 const ax=g.append("g").attr("transform","translate(0,2538)").call(d3.axisBottom(x).tickValues([.1,.15,.2,.25]).tickSize(8).tickPadding(10).tickFormat(d3.format(".2f")));styleAxis(ax,37,"#333");
 T(g,"GeneRatio",2829,2624,37,{"text-anchor":"middle"});
 T(g,"Count",3301,1764,34);
 const ly=d3.scaleOrdinal().domain(countLevels).range([1811,1865,1922,1988]);
 countLevels.forEach(n=>{g.append("circle").attr("cx",3336).attr("cy",ly(n)).attr("r",size(n)).attr("fill","#000");T(g,n,3387,ly(n)+10,28);});
 pLegend(g,pDom,3301,2141,2408.6,[.01,.02],d3.format(".2f"),2117);
})();

// ---------- F ----------
(function(){
 const g=svg.append("g");
 const x=d3.scaleLinear().domain([-.24,5.24]).range([2697,3245]);
 const y=d3.scaleBand().domain(kegg).range([2823,3787]).paddingInner(.1).paddingOuter(.05);
 const pDom=[.00038,.0241],col=pCol(pDom);
 g.append("rect").attr("x",2697).attr("y",2817).attr("width",548).attr("height",975).attr("fill","#fff");
 [.5,1.5,2.5,3.5,4.5].forEach(v=>g.append("line").attr("x1",x(v)).attr("x2",x(v)).attr("y1",2817).attr("y2",3792).attr("stroke","#eee").attr("stroke-width",1.5));
 [0,1,2,3,4,5].forEach(v=>g.append("line").attr("x1",x(v)).attr("x2",x(v)).attr("y1",2817).attr("y2",3792).attr("stroke","#ebebeb").attr("stroke-width",3));
 kegg.forEach(k=>g.append("line").attr("x1",2697).attr("x2",3245).attr("y1",y(k)+y.bandwidth()/2).attr("y2",y(k)+y.bandwidth()/2).attr("stroke","#ebebeb").attr("stroke-width",3));
 g.append("g").selectAll("rect").data(kegg).join("rect").attr("x",x(0)).attr("y",d=>y(d)).attr("height",y.bandwidth()).attr("width",(d,i)=>x(keggCount[i])-x(0)).attr("fill",(d,i)=>col(keggP[i]));
 g.append("rect").attr("x",2697).attr("y",2817).attr("width",548).attr("height",975).attr("fill","none").attr("stroke","#333").attr("stroke-width",3);
 const ay=g.append("g").attr("transform","translate(2697,0)").call(d3.axisLeft(y).tickSize(8).tickPadding(7));styleAxis(ay,37.1,"#333");
 const ax=g.append("g").attr("transform","translate(0,3792)").call(d3.axisBottom(x).tickValues([0,1,2,3,4,5]).tickSize(8).tickPadding(8).tickFormat(d3.format("d")));styleAxis(ax,37,"#333");
 pLegend(g,pDom,3297.5,3195.6,3462,[.005,.01,.015,.02],d3.format(".3f"),3173);
})();
</script></body></html>
